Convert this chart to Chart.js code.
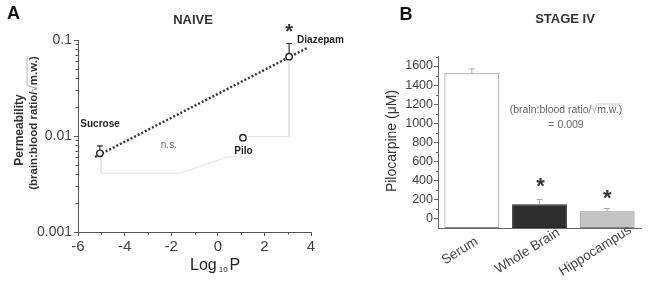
<!DOCTYPE html>
<html><head><meta charset="utf-8">
<script src="https://cdn.jsdelivr.net/npm/chart.js@4.4.0/dist/chart.umd.min.js"></script>
<style>
html,body{margin:0;padding:0;background:#fff;width:649px;height:288px;overflow:hidden}
canvas{position:absolute;top:0}
#cA{left:0}
#cB{left:370px}
</style></head><body>
<canvas id="cA" width="370" height="288"></canvas>
<canvas id="cB" width="279" height="288"></canvas>
<script>
// ---- Panel A data ----
const naiveLabels = ['Sucrose', 'Pilo', 'Diazepam'];
const logP = [-5.06, 1.08, 3.06];
const permeability = [0.0066, 0.0096, 0.067];
const permErrTop = [0.0079, null, 0.092];
const fitX = [-5.27, 3.83];
const fitY = [0.00604, 0.0825];
const bracketDiazX = [3.06, 3.06, 1.3];
const bracketDiazY = [0.060, 0.0099, 0.0099];
const bracketSucX = [-5.01, -5.01, -1.62, 0.39, 0.75];
const bracketSucY = [0.0058, 0.0041, 0.0041, 0.0060, 0.0061];
const xTicksA = [-6, -4, -2, 0, 2, 4];
const xMinorA = [-5, -3, -1, 1, 3];
const yTicksA = [0.001, 0.01, 0.1];

// ---- Panel B data ----
const regions = ['Serum', 'Whole Brain', 'Hippocampus'];
const pilocarpine = [1525, 150, 75];
const piloErr = [45, 50, 30];
const yTicksB = [0, 200, 400, 600, 800, 1000, 1200, 1400, 1600];
const yMinorB = [100, 300, 500, 700, 900, 1100, 1300, 1500, 1700];

const FONT = "'Liberation Sans', Arial, sans-serif";
const toXY = (xs, ys) => xs.map((x, i) => ({x: x, y: ys[i]}));

const plotA = {
  id: 'plotA',
  afterDraw(chart) {
    const ctx = chart.ctx, xs = chart.scales.x, ys = chart.scales.y, ca = chart.chartArea;
    ctx.save();
    ctx.strokeStyle = '#555'; ctx.lineWidth = 1;
    // minor ticks
    for (let e = -3; e < -1; e++) {
      for (let m = 2; m <= 9; m++) {
        const py = Math.round(ys.getPixelForValue(m * Math.pow(10, e))) + 0.5;
        ctx.beginPath(); ctx.moveTo(ca.left - 2.5, py); ctx.lineTo(ca.left + 0.5, py); ctx.stroke();
      }
    }
    xMinorA.forEach(v => {
      const px = Math.round(xs.getPixelForValue(v)) + 0.5;
      ctx.beginPath(); ctx.moveTo(px, ca.bottom); ctx.lineTo(px, ca.bottom + 2.5); ctx.stroke();
    });
    // error bars
    ctx.strokeStyle = '#333'; ctx.lineWidth = 1.2;
    logP.forEach((x, i) => {
      if (permErrTop[i] == null) return;
      const px = xs.getPixelForValue(x);
      const p0 = ys.getPixelForValue(permeability[i]) - 3.5;
      const p1 = ys.getPixelForValue(permErrTop[i]);
      ctx.beginPath(); ctx.moveTo(px, p0); ctx.lineTo(px, p1);
      ctx.moveTo(px - 3, p1); ctx.lineTo(px + 3, p1); ctx.stroke();
    });
    // point labels
    ctx.fillStyle = '#222';
    ctx.font = 'bold 10px ' + FONT;
    ctx.textBaseline = 'middle';
    ctx.textAlign = 'left';
    ctx.fillText(naiveLabels[0], xs.getPixelForValue(-5.9), 124);
    ctx.textAlign = 'center';
    ctx.fillText(naiveLabels[1], xs.getPixelForValue(logP[1]) + 0.5, 151);
    ctx.textAlign = 'left';
    ctx.fillText(naiveLabels[2], xs.getPixelForValue(logP[2]) + 8, 40);
    ctx.font = '10px ' + FONT; ctx.fillStyle = '#666'; ctx.textAlign = 'center';
    ctx.fillText('n.s.', xs.getPixelForValue(-2.1), 145);
    ctx.font = 'bold 20px ' + FONT; ctx.fillStyle = '#333';
    ctx.fillText('*', xs.getPixelForValue(logP[2]), 32);
    // titles
    ctx.fillStyle = '#111';
    ctx.font = 'bold 18px ' + FONT; ctx.textAlign = 'left';
    ctx.fillText('A', 7, 14);
    ctx.font = 'bold 13px ' + FONT; ctx.textAlign = 'center'; ctx.fillStyle = '#333';
    ctx.fillText('NAIVE', 193, 20);
    // x title Log10P
    ctx.fillStyle = '#222';
    ctx.textBaseline = 'alphabetic'; ctx.textAlign = 'left';
    ctx.font = '16px ' + FONT;
    ctx.fillText('Log', 190, 270);
    let w = ctx.measureText('Log').width;
    ctx.font = '8px ' + FONT;
    ctx.fillText('10', 190 + w + 2, 272);
    let w2 = ctx.measureText('10').width;
    ctx.font = '16px ' + FONT;
    ctx.fillText('P', 190 + w + w2 + 4, 270);
    // y title
    ctx.save();
    ctx.translate(20, 130); ctx.rotate(-Math.PI / 2);
    ctx.textAlign = 'center'; ctx.textBaseline = 'middle';
    ctx.font = 'bold 12px ' + FONT; ctx.fillStyle = '#333';
    ctx.fillText('Permeability', 0, 0);
    ctx.restore();
    ctx.save();
    ctx.translate(34, 123); ctx.rotate(-Math.PI / 2);
    ctx.textBaseline = 'middle';
    ctx.font = 'bold 11.5px ' + FONT; ctx.fillStyle = '#333';
    const s1 = '(brain:blood ratio/', s2 = '\u221A', s3 = 'm.w.)';
    const tw = ctx.measureText(s1 + s2 + s3).width;
    let x0 = -tw / 2;
    ctx.textAlign = 'left';
    ctx.fillText(s1, x0, 0); x0 += ctx.measureText(s1).width;
    ctx.fillStyle = '#999';
    ctx.fillText(s2, x0, 0); x0 += ctx.measureText(s2).width;
    const w3 = ctx.measureText(s3).width;
    ctx.strokeStyle = '#999'; ctx.lineWidth = 0.8;
    ctx.beginPath(); ctx.moveTo(x0 - 1, -7); ctx.lineTo(x0 + w3, -7); ctx.stroke();
    ctx.fillStyle = '#333';
    ctx.fillText(s3, x0, 0);
    ctx.restore();
    ctx.restore();
  }
};

new Chart(document.getElementById('cA'), {
  type: 'scatter',
  data: {
    datasets: [
      {data: toXY(bracketDiazX, bracketDiazY), showLine: true, borderColor: '#e2e2e2', borderWidth: 1, pointRadius: 0, order: 3},
      {data: toXY(bracketSucX, bracketSucY), showLine: true, borderColor: '#e2e2e2', borderWidth: 1, pointRadius: 0, order: 3},
      {data: toXY(fitX, fitY), showLine: true, borderColor: '#333', borderWidth: 2.4, borderDash: [2, 2], pointRadius: 0, order: 2},
      {data: toXY(logP, permeability), showLine: false, pointRadius: 3.2, pointBorderWidth: 1.4, pointBackgroundColor: '#fff', pointBorderColor: '#222', order: 1}
    ]
  },
  options: {
    responsive: false, animation: false, events: [],
    layout: {padding: {top: 40, left: 0, right: 59, bottom: 0}},
    plugins: {legend: {display: false}, tooltip: {enabled: false}},
    scales: {
      x: {
        type: 'linear', min: -6, max: 4,
        afterFit: s => { s.height = 56; },
        afterBuildTicks: s => { s.ticks = xTicksA.map(v => ({value: v})); },
        ticks: {font: {family: FONT, size: 15}, color: '#444', padding: 2, maxRotation: 0},
        grid: {drawOnChartArea: false, drawTicks: true, tickLength: 4, color: '#555'},
        border: {color: '#555', width: 1}
      },
      y: {
        type: 'logarithmic', min: 0.001, max: 0.1,
        afterFit: s => { s.width = 78; },
        afterBuildTicks: s => { s.ticks = yTicksA.map(v => ({value: v, major: true})); },
        ticks: {font: {family: FONT, size: 14}, color: '#444', padding: 2, callback: v => String(v)},
        grid: {drawOnChartArea: false, drawTicks: true, tickLength: 4, color: '#555'},
        border: {color: '#555', width: 1}
      }
    }
  },
  plugins: [plotA]
});

const plotB = {
  id: 'plotB',
  afterDraw(chart) {
    const ctx = chart.ctx, xs = chart.scales.x, ys = chart.scales.y, ca = chart.chartArea;
    ctx.save();
    ctx.strokeStyle = '#666'; ctx.lineWidth = 1;
    yMinorB.forEach(v => {
      const py = Math.round(ys.getPixelForValue(v)) + 0.5;
      ctx.beginPath(); ctx.moveTo(ca.left - 2, py); ctx.lineTo(ca.left + 0.5, py); ctx.stroke();
    });
    // error bars
    ctx.strokeStyle = '#aaa'; ctx.lineWidth = 1;
    regions.forEach((r, i) => {
      const px = xs.getPixelForValue(i);
      const p0 = ys.getPixelForValue(pilocarpine[i]);
      const p1 = ys.getPixelForValue(pilocarpine[i] + piloErr[i]);
      ctx.beginPath(); ctx.moveTo(px, p0); ctx.lineTo(px, p1);
      ctx.moveTo(px - 3, p1); ctx.lineTo(px + 3, p1); ctx.stroke();
    });
    // asterisks
    ctx.fillStyle = '#333'; ctx.font = 'bold 22px ' + FONT;
    ctx.textAlign = 'center'; ctx.textBaseline = 'middle';
    ctx.fillText('*', xs.getPixelForValue(1) + 1, ys.getPixelForValue(pilocarpine[1] + piloErr[1]) - 12);
    ctx.fillText('*', xs.getPixelForValue(2) + 0, ys.getPixelForValue(pilocarpine[2] + piloErr[2]) - 10);
    // x labels
    ctx.font = '13.5px ' + FONT; ctx.fillStyle = '#444';
    regions.forEach((r, i) => {
      const px = xs.getPixelForValue(i);
      ctx.save();
      ctx.translate(px - 12, ca.bottom + 23);
      ctx.rotate(-32 * Math.PI / 180);
      ctx.textAlign = 'center'; ctx.textBaseline = 'middle';
      ctx.fillText(r, 0, 0);
      ctx.restore();
    });
    // annotation
    ctx.font = '10.5px ' + FONT; ctx.fillStyle = '#666';
    ctx.textAlign = 'left';
    const s1 = '(brain:blood ratio/', s2 = '\u221A', s3 = 'm.w.)';
    const tw = ctx.measureText(s1 + s2 + s3).width;
    let x0 = 196 - tw / 2;
    ctx.fillText(s1, x0, 110); x0 += ctx.measureText(s1).width;
    ctx.fillStyle = '#aaa';
    ctx.fillText(s2, x0, 110); x0 += ctx.measureText(s2).width;
    const w3 = ctx.measureText(s3).width;
    ctx.strokeStyle = '#bbb'; ctx.lineWidth = 0.8;
    ctx.beginPath(); ctx.moveTo(x0 - 1, 104); ctx.lineTo(x0 + w3, 104); ctx.stroke();
    ctx.fillStyle = '#666';
    ctx.fillText(s3, x0, 110);
    ctx.textAlign = 'center';
    ctx.fillText('= 0.009', 196, 125);
    // titles
    ctx.fillStyle = '#111'; ctx.font = 'bold 18px ' + FONT;
    ctx.fillText('B', 36, 15);
    ctx.fillStyle = '#333'; ctx.font = 'bold 13px ' + FONT;
    ctx.fillText('STAGE IV', 195, 19);
    // y title
    ctx.save();
    ctx.translate(22, 141); ctx.rotate(-Math.PI / 2);
    ctx.font = '14px ' + FONT; ctx.fillStyle = '#333';
    ctx.textAlign = 'center'; ctx.textBaseline = 'middle';
    ctx.fillText('Pilocarpine (\u03BCM)', 0, 0);
    ctx.restore();
    ctx.restore();
  }
};

new Chart(document.getElementById('cB'), {
  type: 'bar',
  data: {
    labels: regions,
    datasets: [{
      data: pilocarpine,
      base: -100,
      backgroundColor: ['#ffffff', '#2e2e2e', '#c4c4c4'],
      borderColor: ['#8a8a8a', '#222222', '#8a8a8a'],
      borderWidth: 1,
      borderSkipped: false,
      barPercentage: 0.81,
      categoryPercentage: 1
    }]
  },
  options: {
    responsive: false, animation: false, events: [],
    layout: {padding: {top: 56.5, left: 0, right: 8, bottom: 0}},
    plugins: {legend: {display: false}, tooltip: {enabled: false}},
    scales: {
      x: {
        afterFit: s => { s.height = 60; },
        ticks: {display: false},
        grid: {display: false},
        border: {color: '#666', width: 1}
      },
      y: {
        min: -100, max: 1700,
        afterFit: s => { s.width = 68; },
        afterBuildTicks: s => { s.ticks = yTicksB.map(v => ({value: v})); },
        ticks: {font: {family: FONT, size: 12.5}, color: '#444', padding: 1, callback: v => String(v)},
        grid: {drawOnChartArea: false, drawTicks: true, tickLength: 4, color: '#666'},
        border: {color: '#666', width: 1}
      }
    }
  },
  plugins: [plotB]
});
</script>
</body></html>
